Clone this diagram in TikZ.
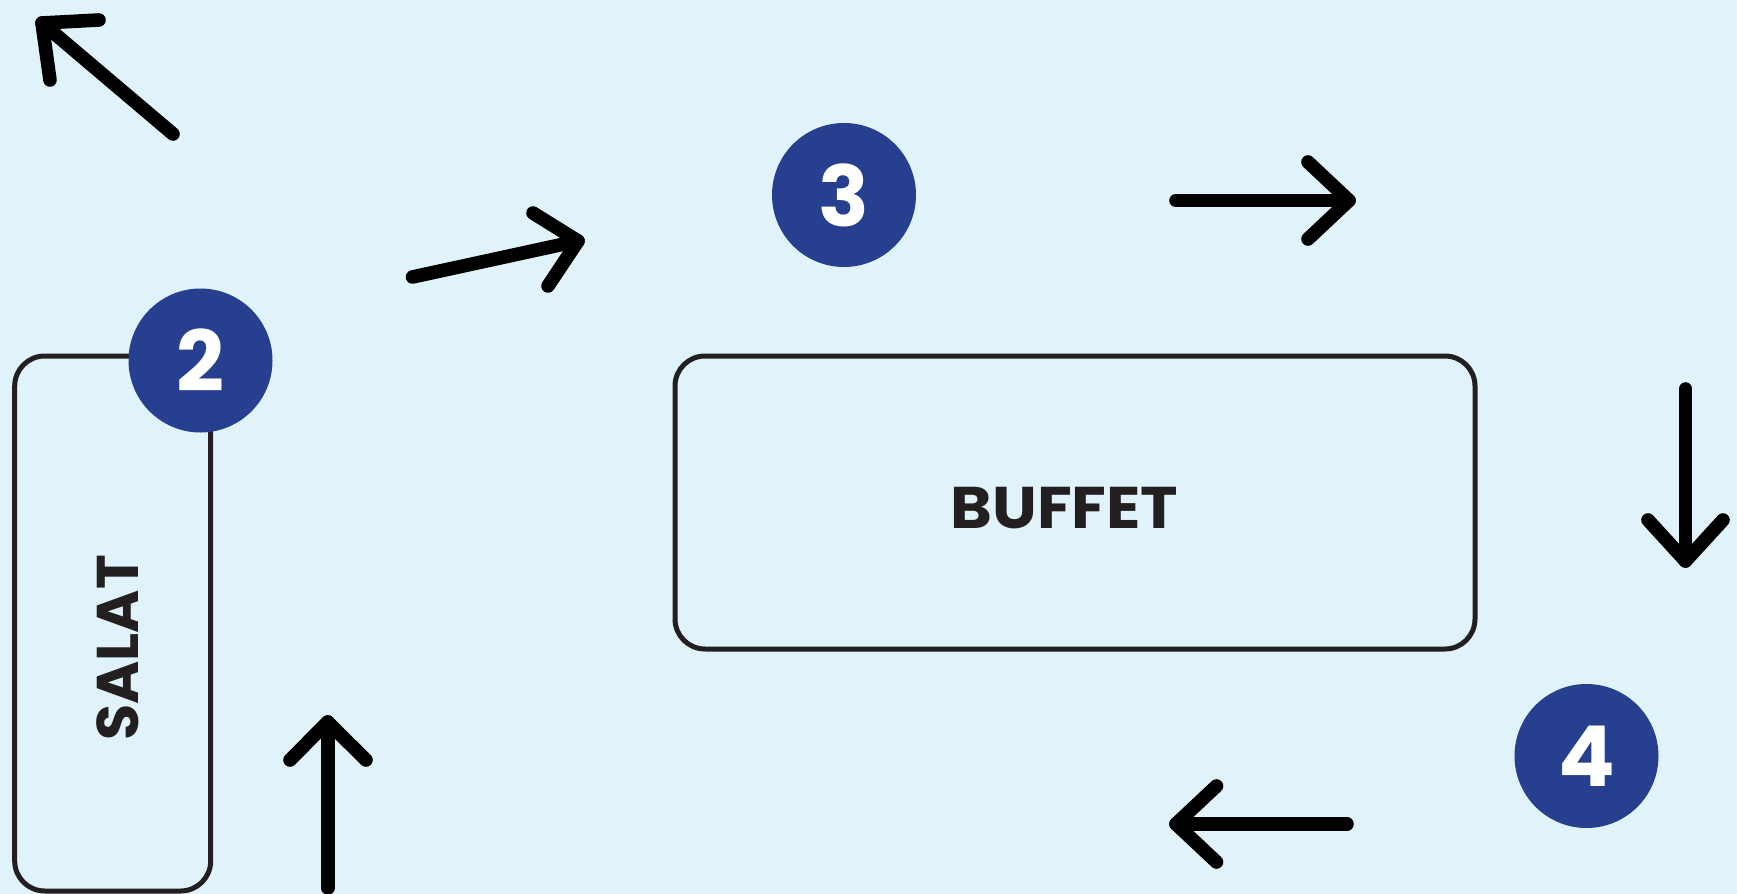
\documentclass[tikz,border=0pt]{standalone}
\usepackage{fontspec}
\setmainfont{Poppins}
\definecolor{bg}{HTML}{E0F3FB}
\definecolor{badge}{HTML}{263F8E}
\definecolor{ink}{HTML}{231F20}
\begin{document}
\begin{tikzpicture}[x=0.5pt,y=-0.5pt,
  table/.style={draw=ink,line width=2.5pt,rounded corners=15pt},
  badgecircle/.style={circle,fill=badge,minimum size=72pt,inner sep=0pt,text=white,font=\fontsize{42}{42}\selectfont\bfseries},
  label/.style={inner sep=0pt,text=ink,font=\fontsize{29.4}{30}\selectfont\bfseries},
  flow/.style={draw=black,line width=6.8pt,line cap=round,line join=round}]
\useasboundingbox (0,0) rectangle (1737,894);
\fill[bg] (0,0) rectangle (1737,894);
% tables
\draw[table] (14.7,356) rectangle (210.7,891);
\draw[table] (675,356) rectangle (1475,649);
\node[label,rotate=90] (salat) at (117.5,648) {SALAT};
\node[label] (buffet) at (1064.5,508.5) {\scalebox{1.08}[1]{BUFFET}};
% badges
\node[badgecircle] (b2) at (200.5,360.5) {2};
\node[badgecircle] (b3) at (844,195) {3};
\node[badgecircle] (b4) at (1586.5,756) {4};
% arrow 1 (up-left)
\coordinate (a1s) at (173,134); \coordinate (a1e) at (42,23);
\coordinate (a1l) at (99,20); \coordinate (a1r) at (50,80);
\draw[flow] (a1s) -- (a1e);
\draw[flow] (a1l) -- (a1e) -- (a1r);
% arrow 2 (up-right)
\coordinate (a2s) at (412.5,277); \coordinate (a2e) at (578,241);
\coordinate (a2l) at (533,213); \coordinate (a2r) at (548,286);
\draw[flow] (a2s) -- (a2e);
\draw[flow] (a2l) -- (a2e) -- (a2r);
% arrow 3 (right)
\coordinate (a3s) at (1176,200.5); \coordinate (a3e) at (1349,200.5);
\coordinate (a3l) at (1308,162); \coordinate (a3r) at (1308,239);
\draw[flow] (a3s) -- (a3e);
\draw[flow] (a3l) -- (a3e) -- (a3r);
% arrow 4 (down)
\coordinate (a4s) at (1685.5,389); \coordinate (a4e) at (1685.5,561);
\coordinate (a4l) at (1648,520); \coordinate (a4r) at (1723,520);
\draw[flow] (a4s) -- (a4e);
\draw[flow] (a4l) -- (a4e) -- (a4r);
% arrow 5 (left)
\coordinate (a5s) at (1347,824); \coordinate (a5e) at (1176,824);
\coordinate (a5l) at (1216.5,786); \coordinate (a5r) at (1216.5,862);
\draw[flow] (a5s) -- (a5e);
\draw[flow] (a5l) -- (a5e) -- (a5r);
% arrow 6 (up)
\coordinate (a6s) at (327.7,888); \coordinate (a6e) at (327.7,722);
\coordinate (a6l) at (290,760); \coordinate (a6r) at (366,760);
\draw[flow] (a6s) -- (a6e);
\draw[flow] (a6l) -- (a6e) -- (a6r);
\end{tikzpicture}
\end{document}
